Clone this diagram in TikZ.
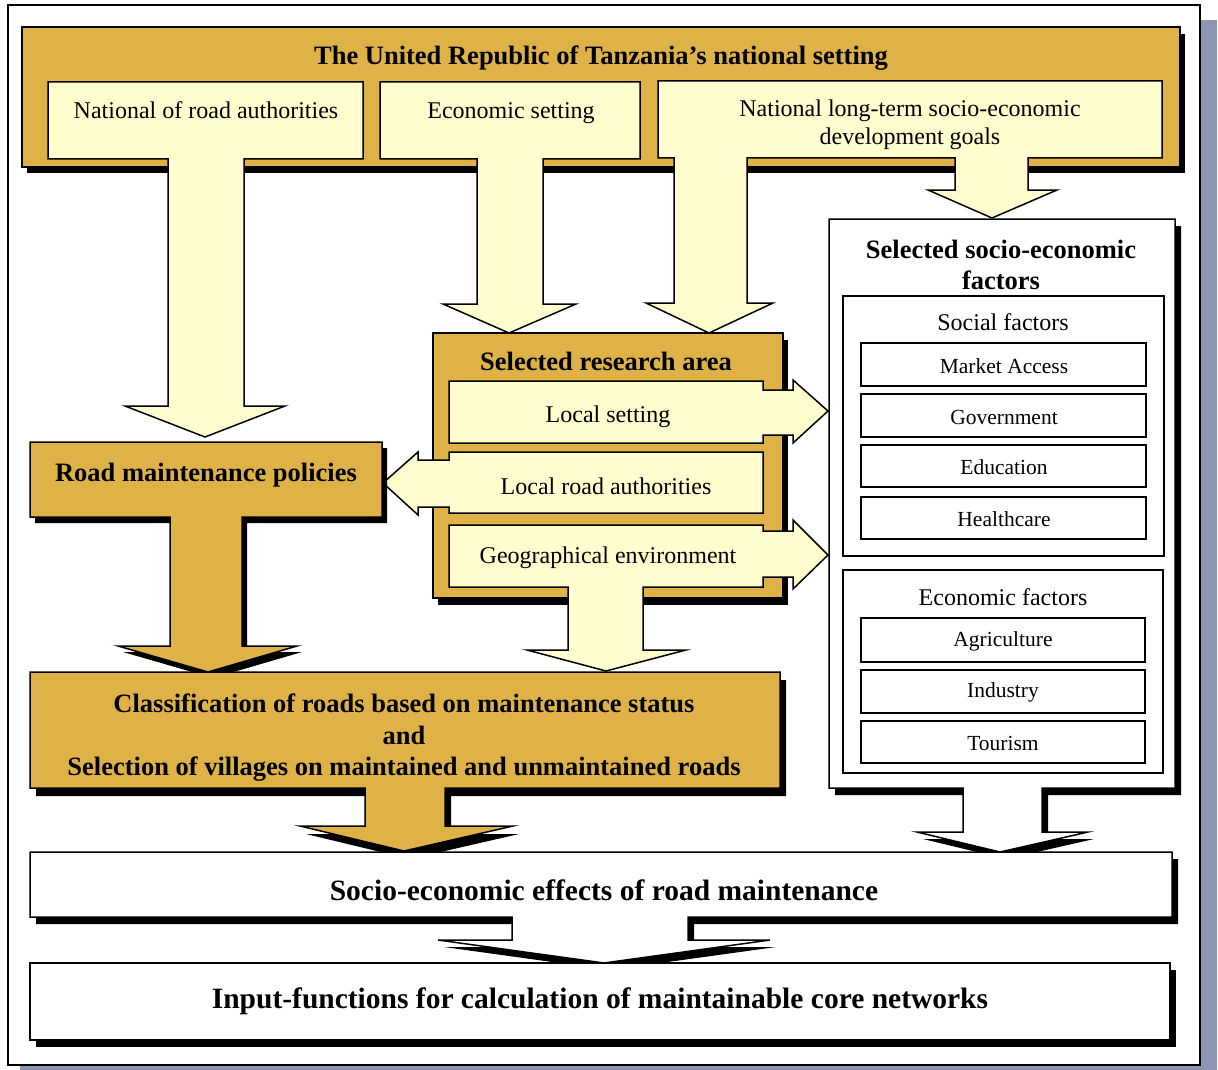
\documentclass[tikz,border=0pt]{standalone}
\usepackage{fontspec}
\setmainfont{Liberation Serif}
\definecolor{gold}{RGB}{223,178,72}
\definecolor{cream}{RGB}{255,252,206}
\definecolor{graybar}{RGB}{140,150,180}
\newcommand\myblock[3]{%
  \fill[black,shift={(#3)}] #2 -- cycle;
  \filldraw[fill=#1,edge] #2 -- cycle;}
\tikzset{
  rt/.style={font=\fontsize{24}{28}\selectfont, inner sep=0pt, align=center},
  bt/.style={font=\fontsize{26.5}{31.5}\selectfont\bfseries, inner sep=0pt, align=center},
  bigbt/.style={font=\fontsize{29.5}{34}\selectfont\bfseries, inner sep=0pt, align=center},
  st/.style={font=\fontsize{21.5}{25}\selectfont, inner sep=0pt},
  edge/.style={draw=black, line width=1.5pt, line join=miter},
  thinbox/.style={draw=black, line width=1.3pt, fill=white},
}
\begin{document}
\begin{tikzpicture}[x=1pt,y=-1pt]
\useasboundingbox (0,0) rectangle (1218,1070);
% outer frame
\fill[graybar] (20,20) rectangle (1217,1070);
\filldraw[fill=white,draw=black,line width=1.2pt] (8,5) rectangle (1200,1065);

% banner
\fill[black] (27,34) rectangle (1185,173);
\filldraw[fill=gold,edge] (22,27) rectangle (1180,167);
% cream boxes with arrows
\filldraw[fill=cream,edge] (48,82) -- (363,82) -- (363,159) -- (244,159) -- (244,406) -- (285,406) -- (205,437) -- (125,406) -- (168,406) -- (168,159) -- (48,159) -- cycle;
\filldraw[fill=cream,edge] (380,82) -- (640,82) -- (640,159) -- (543,159) -- (543,304) -- (576,304) -- (509,333) -- (443,304) -- (477,304) -- (477,159) -- (380,159) -- cycle;
\filldraw[fill=cream,edge] (658,81) -- (1162,81) -- (1162,158) -- (1028,158) -- (1028,190) -- (1057,190) -- (992,218) -- (928,190) -- (955,190) -- (955,158) -- (747,158) -- (747,303) -- (773,303) -- (709,333) -- (646,303) -- (674,303) -- (674,158) -- (658,158) -- cycle;
\node[bt] (title) at (601,58) {The United Republic of Tanzania’s national setting};
\node[rt] (nra) at (206,110) {National of road authorities};
\node[rt] (eco) at (511,113) {Economic setting};
\node[rt] (nlt) at (910,125) {National long-term socio-economic\\development goals};

% socio-economic factors box
\myblock{white}{(829,219) -- (1175,219) -- (1175,788) -- (1042,788) -- (1042,832) -- (1088,832) -- (1000,852) -- (917,832) -- (963,832) -- (963,788) -- (829,788)}{6,7}
\node[bt] (sef) at (1001,265) {Selected socio-economic\\factors};
\draw[thinbox] (843,296) rectangle (1164,556);
\node[rt] (sf) at (1003,322) {Social factors};
\draw[thinbox] (861,343) rectangle (1146,386);
\draw[thinbox] (861,394) rectangle (1146,437);
\draw[thinbox] (861,445) rectangle (1146,487);
\draw[thinbox] (861,497) rectangle (1146,539);
\node[st] (ma) at (1004,366) {Market Access};
\node[st] (gov) at (1004,417) {Government};
\node[st] (edu) at (1004,467) {Education};
\node[st] (hc) at (1004,519) {Healthcare};
\draw[thinbox] (843,570) rectangle (1163,773);
\node[rt] (ef) at (1003,597) {Economic factors};
\draw[thinbox] (861,618) rectangle (1145,662);
\draw[thinbox] (861,670) rectangle (1145,713);
\draw[thinbox] (861,721) rectangle (1145,763);
\node[st] (agr) at (1003,641) {Agriculture};
\node[st] (ind) at (1003,692) {Industry};
\node[st] (tour) at (1003,743) {Tourism};

% research area
\fill[black] (438,340) rectangle (788,605);
\filldraw[fill=gold,edge] (433,333) rectangle (783,598);
\node[bt] (sra) at (606,361) {Selected research area};
\filldraw[fill=cream,edge] (449,381) -- (763,381) -- (763,390) -- (793,390) -- (793,380) -- (828,411) -- (793,443) -- (793,435) -- (763,435) -- (763,443) -- (449,443) -- cycle;
\filldraw[fill=cream,edge] (449,452) -- (763,452) -- (763,513) -- (449,513) -- (449,507) -- (418,507) -- (418,515) -- (383,483) -- (418,452) -- (418,460) -- (449,460) -- cycle;
\filldraw[fill=cream,edge] (449,525) -- (763,525) -- (763,531) -- (793,531) -- (793,520) -- (828,555) -- (793,589) -- (793,577) -- (763,577) -- (763,587) -- (643,587) -- (643,650) -- (686,650) -- (606,671) -- (527,650) -- (568,650) -- (568,587) -- (449,587) -- cycle;
\node[rt] (ls) at (608,417) {Local setting};
\node[rt] (lra) at (606,486) {Local road authorities};
\node[rt] (ge) at (608,558) {Geographical environment};

% road maintenance policies
\myblock{gold}{(30,442) -- (382,442) -- (382,517) -- (242,517) -- (242,646) -- (297,646) -- (208,672) -- (118,646) -- (170,646) -- (170,517) -- (30,517)}{5,6}
\node[bt] (rmp) at (206,475) {Road maintenance policies};

% classification
\myblock{gold}{(30,672) -- (780,672) -- (780,788) -- (445,788) -- (445,826) -- (513,826) -- (404,851) -- (300,826) -- (365,826) -- (365,788) -- (30,788)}{6,8}
\node[bt] (cls) at (404,738) {Classification of roads based on maintenance status\\and\\Selection of villages on maintained and unmaintained roads};

% effects
\myblock{white}{(30,852) -- (1172,852) -- (1172,917) -- (688,917) -- (688,940) -- (770,940) -- (604,963) -- (438,940) -- (512,940) -- (512,917) -- (30,917)}{6,7}
\node[bigbt] (eff) at (604,890) {Socio-economic effects of road maintenance};

% input functions
\myblock{white}{(30,963) -- (1170,963) -- (1170,1040) -- (30,1040)}{6,7}
\node[bigbt] (inp) at (600,1001) {Input-functions for calculation of maintainable core networks};
\end{tikzpicture}
\end{document}
